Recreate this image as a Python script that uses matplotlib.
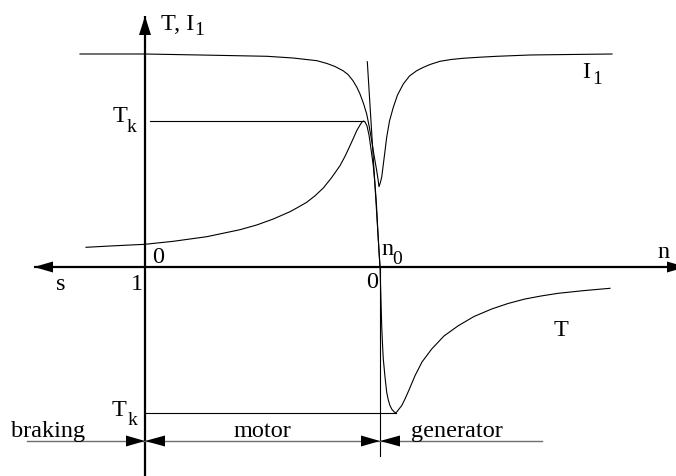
import matplotlib
matplotlib.use("Agg")
import matplotlib.pyplot as plt
import matplotlib.transforms as mtransforms
from matplotlib.patches import Polygon

# Speed axis: n = 0 at standstill (s = 1), n = 1 at synchronous speed n0 (s = 0)
# Torque axis in units of the breakdown torque Tk
T_n = [-0.2511, -0.1489, 0.0, 0.1204, 0.2626, 0.4043, 0.4766, 0.5460, 0.6170, 0.6511,
       0.6881, 0.7234, 0.7587, 0.7936, 0.8298, 0.8511, 0.8723, 0.8872, 0.9009, 0.9149,
       0.9234, 0.9298, 0.9362, 0.9447, 0.9532, 0.9617, 0.9715, 0.9787, 0.9851, 0.9915,
       0.9957, 1.0, 1.0034, 1.0072, 1.0106, 1.0140, 1.0213, 1.0285, 1.0353, 1.0426,
       1.0511, 1.0596, 1.0660, 1.0723, 1.0809, 1.0923, 1.1064, 1.1234, 1.1489, 1.1787,
       1.2200, 1.2723, 1.3332, 1.4000, 1.4753, 1.5447, 1.6170, 1.6851, 1.7587, 1.8681,
       1.9787]
T_val = [0.1349, 0.1438, 0.1555, 0.1760, 0.2075, 0.2555, 0.2884, 0.3288, 0.3788, 0.4089,
         0.4432, 0.4877, 0.5411, 0.6110, 0.6938, 0.7582, 0.8308, 0.8836, 0.9336, 0.9726,
         0.9932, 1.0, 0.9932, 0.9658, 0.9041, 0.8082, 0.6918, 0.5685, 0.4247, 0.2260,
         0.1096, 0.0, -0.1849, -0.4021, -0.5274, -0.6301, -0.7534, -0.8582, -0.9110, -0.9500,
         -0.9760, -0.9911, -1.0, -0.9911, -0.9726, -0.9500, -0.9041, -0.8425, -0.7445, -0.6507,
         -0.5616, -0.4726, -0.4021, -0.3390, -0.2877, -0.2500, -0.2192, -0.1986, -0.1801, -0.1616,
         -0.1459]

I1_n = [-0.2766, 0.0, 0.2340, 0.5191, 0.6298, 0.7319, 0.7745, 0.8085, 0.8426, 0.8638,
        0.8851, 0.9021, 0.9149, 0.9298, 0.9434, 0.9545, 0.9647, 0.9745, 0.9860, 0.9915,
        0.9957, 1.0009, 1.0072, 1.0170, 1.0285, 1.0404, 1.0566, 1.0745, 1.0991, 1.1255,
        1.1562, 1.1830, 1.2128, 1.2553, 1.3021, 1.3532, 1.4255, 1.4979, 1.6383, 1.8085,
        1.9872]
I1_val = [1.4589, 1.4589, 1.4521, 1.4432, 1.4315, 1.4130, 1.3938, 1.3733, 1.3445, 1.3185,
          1.2760, 1.2295, 1.1849, 1.1199, 1.0479, 0.9589, 0.8651, 0.7671, 0.6596, 0.6027,
          0.5500, 0.5753, 0.6144, 0.7397, 0.8884, 1.0, 1.0938, 1.1781, 1.2534, 1.3082,
          1.3445, 1.3664, 1.3870, 1.4089, 1.4212, 1.4295, 1.4370, 1.4432, 1.4521, 1.4555,
          1.4589]

# Linear part of T near synchronous speed
tangent_n = [0.946, 1.0]
tangent_T = [1.406, 0.0]

Tk_motor = 1.0
Tk_gen = -1.0
n_Tk_motor = 0.9298
n_Tk_gen = 1.0660
n_sync = 1.0

regions = ["braking", "motor", "generator"]

# figure geometry (pixels) and axis scales
W, H = 676, 477
X0, Y0 = 145.0, 268.0      # pixel position of the origin
SX, SY = 235.0, 146.0      # pixels per unit of n and of T


def d(x, y):
    """pixel position -> data coordinates"""
    return (x - X0) / SX, (Y0 - y) / SY


fig = plt.figure(figsize=(W / 100, H / 100), dpi=100)
ax = fig.add_axes([0, 0, 1, 1])
ax.set_xlim((0 - X0) / SX, (W - X0) / SX)
ax.set_ylim((Y0 - H) / SY, Y0 / SY)
ax.axis("off")

FONT = "Liberation Serif"
FS = 17.5
FS_SUB = 14

axis_lw = 1.6
curve_lw = 0.8
grey = "#6e6e6e"


def tri(x, y, dx, dy_half, color="black"):
    """filled arrowhead with tip at data point (x, y); dx, dy_half in pixels"""
    verts = [(0, 0), (-dx, dy_half), (-dx, -dy_half)]
    t = mtransforms.ScaledTranslation(x, y, ax.transData)
    ax.add_patch(Polygon(verts, closed=True, facecolor=color, edgecolor="none",
                         transform=mtransforms.IdentityTransform() + t, zorder=5))


def tri_v(x, y, dy, dx_half):
    verts = [(0, 0), (-dx_half, -dy), (dx_half, -dy)]
    t = mtransforms.ScaledTranslation(x, y, ax.transData)
    ax.add_patch(Polygon(verts, closed=True, facecolor="black", edgecolor="none",
                         transform=mtransforms.IdentityTransform() + t, zorder=5))


# coordinate axes
xl, _ = d(34, 0)
xr, _ = d(686, 0)
_, yt = d(0, 17)
_, yb = d(0, 480)
ax.plot([xl, xr], [0, 0], color="black", lw=axis_lw, solid_capstyle="butt")
ax.plot([0, 0], [yb, yt], color="black", lw=axis_lw, solid_capstyle="butt")
tri(xl, 0, -19, 5.5)
tri(xr, 0, 19, 5.5)
tri_v(0, yt, 19, 6)

# curves
line_kw = dict(color="black", lw=curve_lw, solid_joinstyle="round")
ax.plot(T_n, T_val, **line_kw)
ax.plot(I1_n, I1_val, **line_kw)
ax.plot(tangent_n, tangent_T, **line_kw)

# breakdown torque levels
x_start, _ = d(150, 0)
ax.plot([x_start, n_Tk_motor], [Tk_motor, Tk_motor], **line_kw)
ax.plot([0, n_Tk_gen], [Tk_gen, Tk_gen], **line_kw)

# separator at synchronous speed
_, y_sep = d(0, 457)
ax.plot([n_sync, n_sync], [0, y_sep], **line_kw)

# operating regions
_, y_reg = d(0, 442)
x_a, _ = d(27, 0)
x_b, _ = d(542, 0)
ax.plot([x_a, x_b], [y_reg, y_reg], color=grey, lw=1.0)
for xb in (0.0, n_sync):
    tri(xb, y_reg, 19, 5.5)
    tri(xb, y_reg, -20, 5.5)


def label(x, y, s, size=FS):
    ax.text(*d(x, y), s, fontsize=size, family=FONT, ha="left", va="baseline")


label(161, 30, "T, I")
label(194.5, 35, "1", FS_SUB)
label(113, 122, "T")
label(127, 132.5, "k", FS_SUB)
label(582, 77.5, "I")
label(592, 84.5, "1", FS_SUB)
label(152, 263, "0")
label(131, 290, "1")
label(56, 290, "s")
label(381, 255, "n")
label(392, 264.5, "0", FS_SUB)
label(366, 288, "0")
label(657, 258, "n")
label(554, 336, "T")
label(112, 416, "T")
label(128, 425, "k", FS_SUB)
label(11, 437, regions[0])
label(234, 437, regions[1])
label(411.5, 437, regions[2])

fig.savefig("out.png", dpi=100)
